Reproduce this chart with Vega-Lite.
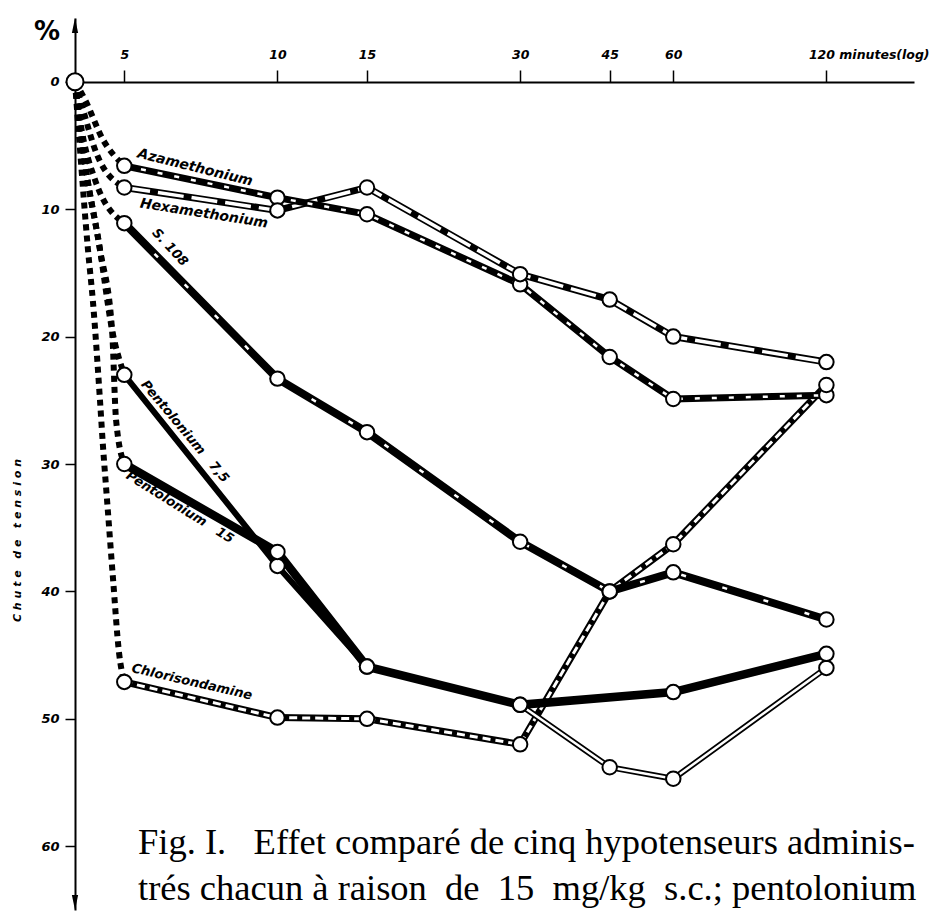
{
  "$schema": "https://vega.github.io/schema/vega-lite/v6.json",
  "width": 839,
  "height": 892,
  "autosize": {"type": "none"},
  "padding": {"left": 75, "top": 18, "right": 20, "bottom": 6},
  "background": "white",
  "config": {
    "view": {"stroke": null},
    "axis": {"labelFont": "DejaVu Sans", "labelFontWeight": "bold", "labelFontStyle": "italic", "labelColor": "black", "tickColor": "black", "domainColor": "black", "titleColor": "black", "grid": false}
  },
  "datasets": {
    "obs": [
      {"series": "Azamethonium", "t": 5, "drop": 6.6},
      {"series": "Azamethonium", "t": 10, "drop": 9.1},
      {"series": "Azamethonium", "t": 15, "drop": 10.4},
      {"series": "Azamethonium", "t": 30, "drop": 15.9},
      {"series": "Azamethonium", "t": 45, "drop": 21.6},
      {"series": "Azamethonium", "t": 60, "drop": 24.9},
      {"series": "Azamethonium", "t": 120, "drop": 24.6},
      {"series": "Hexamethonium", "t": 5, "drop": 8.3},
      {"series": "Hexamethonium", "t": 10, "drop": 10.1},
      {"series": "Hexamethonium", "t": 15, "drop": 8.3},
      {"series": "Hexamethonium", "t": 30, "drop": 15.1},
      {"series": "Hexamethonium", "t": 45, "drop": 17.1},
      {"series": "Hexamethonium", "t": 60, "drop": 20.0},
      {"series": "Hexamethonium", "t": 120, "drop": 22.0},
      {"series": "S. 108", "t": 5, "drop": 11.1},
      {"series": "S. 108", "t": 10, "drop": 23.3},
      {"series": "S. 108", "t": 15, "drop": 27.5},
      {"series": "S. 108", "t": 30, "drop": 36.1},
      {"series": "S. 108", "t": 45, "drop": 40.0},
      {"series": "S. 108", "t": 60, "drop": 38.5},
      {"series": "S. 108", "t": 120, "drop": 42.2},
      {"series": "Pentolonium 7,5", "t": 5, "drop": 23.0},
      {"series": "Pentolonium 7,5", "t": 10, "drop": 38.0},
      {"series": "Pentolonium 7,5", "t": 15, "drop": 45.9},
      {"series": "Pentolonium 7,5", "t": 30, "drop": 48.9},
      {"series": "Pentolonium 7,5", "t": 45, "drop": 53.8},
      {"series": "Pentolonium 7,5", "t": 60, "drop": 54.7},
      {"series": "Pentolonium 7,5", "t": 120, "drop": 46.0},
      {"series": "Pentolonium 15", "t": 5, "drop": 30.0},
      {"series": "Pentolonium 15", "t": 10, "drop": 36.9},
      {"series": "Pentolonium 15", "t": 15, "drop": 45.9},
      {"series": "Pentolonium 15", "t": 30, "drop": 48.9},
      {"series": "Pentolonium 15", "t": 60, "drop": 47.9},
      {"series": "Pentolonium 15", "t": 120, "drop": 44.9},
      {"series": "Chlorisondamine", "t": 5, "drop": 47.1},
      {"series": "Chlorisondamine", "t": 10, "drop": 49.9},
      {"series": "Chlorisondamine", "t": 15, "drop": 50.0},
      {"series": "Chlorisondamine", "t": 30, "drop": 52.0},
      {"series": "Chlorisondamine", "t": 45, "drop": 40.0},
      {"series": "Chlorisondamine", "t": 60, "drop": 36.3},
      {"series": "Chlorisondamine", "t": 120, "drop": 23.8}
    ],
    "lead": [
      {"series": "Azamethonium", "t": 4, "drop": 0},
      {"series": "Azamethonium", "t": 4.185, "drop": 1.41},
      {"series": "Azamethonium", "t": 4.54, "drop": 4.55},
      {"series": "Azamethonium", "t": 5, "drop": 6.6},
      {"series": "Hexamethonium", "t": 4, "drop": 0},
      {"series": "Hexamethonium", "t": 4.148, "drop": 2.2},
      {"series": "Hexamethonium", "t": 4.419, "drop": 5.73},
      {"series": "Hexamethonium", "t": 5, "drop": 8.3},
      {"series": "S. 108", "t": 4, "drop": 0},
      {"series": "S. 108", "t": 4.092, "drop": 2.98},
      {"series": "S. 108", "t": 4.379, "drop": 7.69},
      {"series": "S. 108", "t": 5, "drop": 11.1},
      {"series": "Pentolonium 7,5", "t": 4, "drop": 0},
      {"series": "Pentolonium 7,5", "t": 4.148, "drop": 5.33},
      {"series": "Pentolonium 7,5", "t": 4.479, "drop": 13.18},
      {"series": "Pentolonium 7,5", "t": 4.73, "drop": 19.45},
      {"series": "Pentolonium 7,5", "t": 5, "drop": 23.0},
      {"series": "Pentolonium 15", "t": 4, "drop": 0},
      {"series": "Pentolonium 15", "t": 4.148, "drop": 5.33},
      {"series": "Pentolonium 15", "t": 4.479, "drop": 13.18},
      {"series": "Pentolonium 15", "t": 4.73, "drop": 19.45},
      {"series": "Pentolonium 15", "t": 4.816, "drop": 26.5},
      {"series": "Pentolonium 15", "t": 5, "drop": 30.0},
      {"series": "Chlorisondamine", "t": 4, "drop": 0},
      {"series": "Chlorisondamine", "t": 4.092, "drop": 5.33},
      {"series": "Chlorisondamine", "t": 4.242, "drop": 13.18},
      {"series": "Chlorisondamine", "t": 4.34, "drop": 17.33},
      {"series": "Chlorisondamine", "t": 4.479, "drop": 25.0},
      {"series": "Chlorisondamine", "t": 4.54, "drop": 28.6},
      {"series": "Chlorisondamine", "t": 4.624, "drop": 32.8},
      {"series": "Chlorisondamine", "t": 4.751, "drop": 39.0},
      {"series": "Chlorisondamine", "t": 4.882, "drop": 44.8},
      {"series": "Chlorisondamine", "t": 5, "drop": 47.1}
    ],
    "origin": [{"t": 4, "drop": 0}],
    "arrows": [{"t": 4, "drop": -5, "dir": "up"}, {"t": 4, "drop": 65, "dir": "down"}],
    "labels": [
      {"key": "aza", "t": 6.89, "drop": 6.75, "text": "Azamethonium"},
      {"key": "hexa", "t": 7.17, "drop": 10.35, "text": "Hexamethonium"},
      {"key": "s108", "t": 6.15, "drop": 13.0, "text": "S. 108"},
      {"key": "p75", "t": 6.58, "drop": 27.45, "text": "Pentolonium\u00a0\u00a0\u00a07,5"},
      {"key": "p15", "t": 6.43, "drop": 33.4, "text": "Pentolonium\u00a0\u00a0\u00a015"},
      {"key": "chlo", "t": 6.79, "drop": 47.1, "text": "Chlorisondamine"}
    ],
    "pct": [{"t": 4, "drop": -3.9, "text": "%"}],
    "caption": [
      {"t": 5.32, "drop": 60.6, "text": "Fig. I.\u00a0\u00a0\u00a0Effet comparé de cinq hypotenseurs adminis-"},
      {"t": 5.32, "drop": 64.2, "text": "trés chacun à raison\u00a0 de\u00a0 15\u00a0 mg/kg\u00a0 s.c.; pentolonium"}
    ]
  },
  "encoding": {
    "x": {
      "field": "t", "type": "quantitative",
      "scale": {"type": "log", "domain": [4, 178.4], "nice": false, "zero": false},
      "axis": {
        "orient": "top", "offset": -64, "values": [5, 10, 15, 30, 45, 60, 120], "format": "d", "title": null,
        "tickSize": 12, "tickWidth": 1.5, "domainWidth": 2, "labelPadding": 9, "labelFontSize": 12.5,
        "labelFlush": false, "labelOverlap": false,
        "labelExpr": "datum.value == 120 ? '120 minutes(log)' : datum.label",
        "labelAlign": {"condition": {"test": "datum.value == 120", "value": "left"}, "value": "center"},
        "labelOffset": {"condition": {"test": "datum.value == 120", "value": -18}, "value": 0}
      }
    },
    "y": {
      "field": "drop", "type": "quantitative",
      "scale": {"domain": [-5, 65], "nice": false, "zero": false, "reverse": true},
      "axis": {
        "values": [0, 10, 20, 30, 40, 50, 60], "format": "d",
        "title": "C h u t e \u00a0 d e \u00a0 t e n s i o n",
        "titleFont": "DejaVu Sans", "titleFontStyle": "italic", "titleFontWeight": "bold", "titleFontSize": 11, "titleColor": "black",
        "titleY": 522, "titlePadding": 18,
        "tickSize": 10, "tickWidth": 1.5, "domainWidth": 2, "labelPadding": 6, "labelFontSize": 13
      }
    }
  },
  "layer": [
    {"data": {"name": "lead"}, "mark": {"type": "line", "color": "black", "strokeWidth": 6, "strokeDash": [6, 5], "interpolate": "monotone", "strokeCap": "butt"}, "encoding": {"detail": {"field": "series"}}},

    {"data": {"name": "obs"}, "transform": [{"filter": "datum.series == 'Chlorisondamine'"}], "mark": {"type": "line", "color": "black", "strokeWidth": 7}, "encoding": {}},
    {"data": {"name": "obs"}, "transform": [{"filter": "datum.series == 'Chlorisondamine'"}], "mark": {"type": "line", "color": "white", "strokeWidth": 3, "strokeDash": [8, 5]}, "encoding": {}},

    {"data": {"name": "obs"}, "transform": [{"filter": "datum.series == 'Pentolonium 15'"}], "mark": {"type": "line", "color": "black", "strokeWidth": 8.5}, "encoding": {}},

    {"data": {"name": "obs"}, "transform": [{"filter": "datum.series == 'Pentolonium 7,5'"}], "mark": {"type": "line", "color": "black", "strokeWidth": 6}, "encoding": {}},
    {"data": {"name": "obs"}, "transform": [{"filter": "datum.series == 'Pentolonium 7,5' && datum.t >= 30"}], "mark": {"type": "line", "color": "white", "strokeWidth": 2.5}, "encoding": {}},

    {"data": {"name": "obs"}, "transform": [{"filter": "datum.series == 'S. 108'"}], "mark": {"type": "line", "color": "black", "strokeWidth": 8}, "encoding": {}},
    {"data": {"name": "obs"}, "transform": [{"filter": "datum.series == 'S. 108'"}], "mark": {"type": "line", "color": "white", "strokeWidth": 2.5, "strokeDash": [5, 38]}, "encoding": {}},

    {"data": {"name": "obs"}, "transform": [{"filter": "datum.series == 'Hexamethonium'"}], "mark": {"type": "line", "color": "black", "strokeWidth": 7}, "encoding": {}},
    {"data": {"name": "obs"}, "transform": [{"filter": "datum.series == 'Hexamethonium'"}], "mark": {"type": "line", "color": "white", "strokeWidth": 3.5, "strokeDash": [26, 8]}, "encoding": {}},

    {"data": {"name": "obs"}, "transform": [{"filter": "datum.series == 'Azamethonium'"}], "mark": {"type": "line", "color": "black", "strokeWidth": 7}, "encoding": {}},
    {"data": {"name": "obs"}, "transform": [{"filter": "datum.series == 'Azamethonium'"}], "mark": {"type": "line", "color": "white", "strokeWidth": 2.5, "strokeDash": [5, 12]}, "encoding": {}},

    {"data": {"name": "obs"}, "mark": {"type": "point", "shape": "circle", "filled": true, "fill": "white", "stroke": "black", "strokeWidth": 2, "size": 210, "opacity": 1}},
    {"data": {"name": "origin"}, "mark": {"type": "point", "shape": "circle", "filled": true, "fill": "white", "stroke": "black", "strokeWidth": 2, "size": 290, "opacity": 1}},

    {"data": {"name": "arrows"}, "transform": [{"filter": "datum.dir == 'up'"}], "mark": {"type": "point", "shape": "M0,0L0.25,1.2L-0.25,1.2Z", "filled": true, "color": "black", "size": 625, "opacity": 1}},
    {"data": {"name": "arrows"}, "transform": [{"filter": "datum.dir == 'down'"}], "mark": {"type": "point", "shape": "M0,0L0.25,-1.2L-0.25,-1.2Z", "filled": true, "color": "black", "size": 625, "opacity": 1}},

    {"data": {"name": "labels"}, "transform": [{"filter": "datum.key == 'aza'"}], "mark": {"type": "text", "font": "DejaVu Sans", "fontStyle": "italic", "fontWeight": "bold", "fontSize": 14, "angle": 14, "align": "center", "baseline": "middle", "color": "black"}, "encoding": {"text": {"field": "text"}}},
    {"data": {"name": "labels"}, "transform": [{"filter": "datum.key == 'hexa'"}], "mark": {"type": "text", "font": "DejaVu Sans", "fontStyle": "italic", "fontWeight": "bold", "fontSize": 14, "angle": 9, "align": "center", "baseline": "middle", "color": "black"}, "encoding": {"text": {"field": "text"}}},
    {"data": {"name": "labels"}, "transform": [{"filter": "datum.key == 's108'"}], "mark": {"type": "text", "font": "DejaVu Sans", "fontStyle": "italic", "fontWeight": "bold", "fontSize": 13, "angle": 47, "align": "center", "baseline": "middle", "color": "black"}, "encoding": {"text": {"field": "text"}}},
    {"data": {"name": "labels"}, "transform": [{"filter": "datum.key == 'p75'"}], "mark": {"type": "text", "font": "DejaVu Sans", "fontStyle": "italic", "fontWeight": "bold", "fontSize": 13, "angle": 50, "align": "center", "baseline": "middle", "color": "black"}, "encoding": {"text": {"field": "text"}}},
    {"data": {"name": "labels"}, "transform": [{"filter": "datum.key == 'p15'"}], "mark": {"type": "text", "font": "DejaVu Sans", "fontStyle": "italic", "fontWeight": "bold", "fontSize": 13, "angle": 32, "align": "center", "baseline": "middle", "color": "black"}, "encoding": {"text": {"field": "text"}}},
    {"data": {"name": "labels"}, "transform": [{"filter": "datum.key == 'chlo'"}], "mark": {"type": "text", "font": "DejaVu Sans", "fontStyle": "italic", "fontWeight": "bold", "fontSize": 13, "angle": 13, "align": "center", "baseline": "middle", "color": "black"}, "encoding": {"text": {"field": "text"}}},

    {"data": {"name": "pct"}, "mark": {"type": "text", "font": "DejaVu Sans", "fontWeight": "bold", "fontSize": 26, "dx": -28, "align": "center", "baseline": "middle", "color": "black"}, "encoding": {"text": {"field": "text"}}},

    {"data": {"name": "caption"}, "mark": {"type": "text", "font": "Liberation Serif", "fontSize": 36.5, "align": "left", "baseline": "alphabetic", "color": "black"}, "encoding": {"text": {"field": "text"}}}
  ]
}
